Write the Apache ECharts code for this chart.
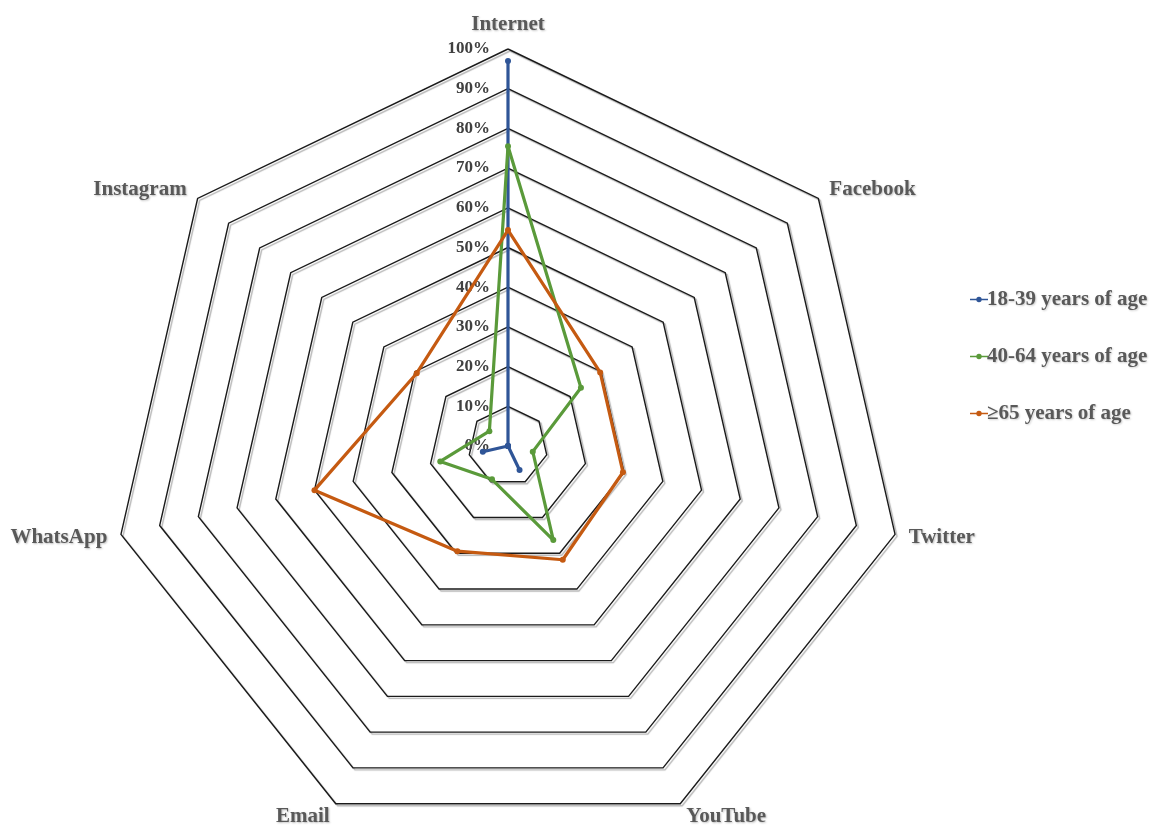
<!DOCTYPE html>
<html>
<head>
<meta charset="utf-8">
<title>Radar</title>
<script src="https://cdn.jsdelivr.net/npm/echarts@6/dist/echarts.min.js"></script>
<style>
  html, body { margin: 0; padding: 0; background: #fff; }
  #chart { width: 1151px; height: 825px; }
</style>
</head>
<body>
<div id="chart"></div>
<script>
// axes, clockwise from the top
const platforms = ['Internet', 'Facebook', 'Twitter', 'YouTube', 'Email', 'WhatsApp', 'Instagram']
const seriesNames = ['18-39 years of age', '40-64 years of age', '≥65 years of age']

// percent of respondents
const age18to39 = [97, 0, 0, 6.7, 0, 6.5, 0]
const age40to64 = [75.5, 23.5, 6.4, 26.3, 9.3, 17.5, 6]
const age65plus = [54.4, 29.7, 29.7, 31.8, 29.4, 50, 29.4]

const colors = ['#2f5597', '#5a9a3a', '#c55a11']
const serif = '"Liberation Serif", "Times New Roman", serif'

// echarts lays indicators out counter-clockwise, so flip everything after the first
const order = [0, 6, 5, 4, 3, 2, 1]
const reorder = arr => order.map(i => arr[i])

// line with a dot in the middle, like the excel legend key
const legendIcon = 'path://M0,2.6h8v1.8h-8z M12,2.6h8v1.8h-8z M10,0.5a3,3 0 1,1 -0.01,0z'

const chart = echarts.init(document.getElementById('chart'))

const option = {
  backgroundColor: '#ffffff',
  color: colors,
  legend: {
    orient: 'vertical',
    left: 965,
    top: 284,
    icon: legendIcon,
    itemWidth: 18,
    itemHeight: 6,
    itemGap: 36,
    textStyle: {
      fontFamily: serif,
      fontWeight: 'bold',
      fontSize: 21,
      color: '#595959',
      padding: [0, 0, 0, -6],
      textShadowColor: 'rgba(0,0,0,0.2)',
      textShadowBlur: 2,
      textShadowOffsetX: 1,
      textShadowOffsetY: 1
    },
    data: seriesNames
  },
  radar: {
    center: [508, 446],
    radius: 397,
    startAngle: 90,
    splitNumber: 10,
    shape: 'polygon',
    nameGap: 14,
    axisName: {
      fontFamily: serif,
      fontWeight: 'bold',
      fontSize: 21,
      color: '#595959',
      textShadowColor: 'rgba(0,0,0,0.25)',
      textShadowBlur: 2,
      textShadowOffsetX: 1,
      textShadowOffsetY: 1
    },
    axisLine: { show: false },
    axisTick: { show: false },
    splitArea: { show: false },
    splitLine: {
      lineStyle: {
        color: '#1a1a1a',
        width: 1.4,
        shadowColor: 'rgba(0,0,0,0.3)',
        shadowBlur: 1,
        shadowOffsetX: 2,
        shadowOffsetY: 2
      }
    },
    axisLabel: { show: false },
    indicator: reorder(platforms).map((name, i) => {
      const ind = { name: name, min: 0, max: 100 }
      if (i === 0) {
        ind.axisLabel = {
          show: true,
          fontFamily: serif,
          fontWeight: 'bold',
          fontSize: 17,
          color: '#404040',
          margin: 18,
          formatter: v => v + '%'
        }
      }
      return ind
    })
  },
  series: [
    {
      type: 'radar',
      symbol: 'circle',
      symbolSize: 6,
      lineStyle: { width: 3.2 },
      data: [
        { name: seriesNames[0], value: reorder(age18to39), itemStyle: { color: colors[0] }, lineStyle: { color: colors[0], width: 3.2 } },
        { name: seriesNames[1], value: reorder(age40to64), itemStyle: { color: colors[1] }, lineStyle: { color: colors[1], width: 3.2 } },
        { name: seriesNames[2], value: reorder(age65plus), itemStyle: { color: colors[2] }, lineStyle: { color: colors[2], width: 3.2 } }
      ]
    }
  ]
}

chart.setOption(option)
</script>
</body>
</html>
